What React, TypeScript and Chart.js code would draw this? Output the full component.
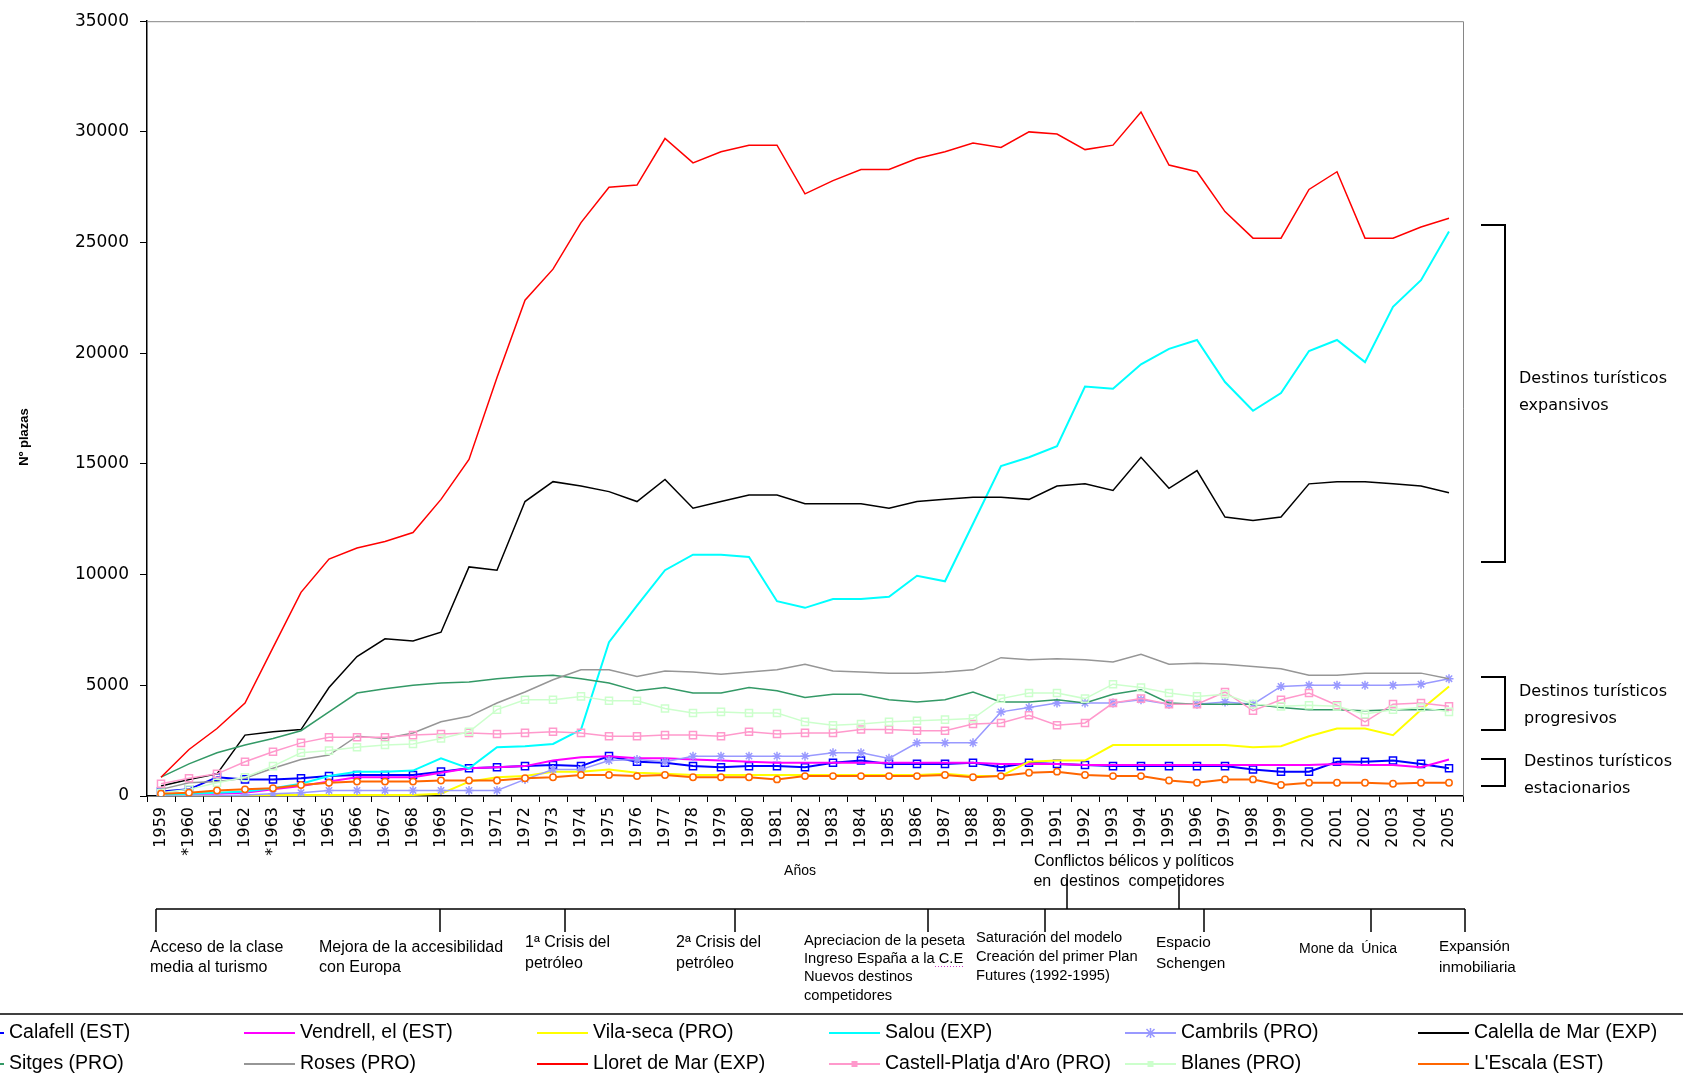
import React, { useEffect, useRef } from 'react';
import { Chart, registerables } from 'chart.js';

Chart.register(...registerables);

const yearLabels = ['1959', '*1960', '1961', '1962', '*1963', '1964', '1965', '1966', '1967', '1968', '1969', '1970', '1971', '1972', '1973', '1974', '1975', '1976', '1977', '1978', '1979', '1980', '1981', '1982', '1983', '1984', '1985', '1986', '1987', '1988', '1989', '1990', '1991', '1992', '1993', '1994', '1995', '1996', '1997', '1998', '1999', '2000', '2001', '2002', '2003', '2004', '2005'];

const yTicks = [0, 5000, 10000, 15000, 20000, 25000, 30000, 35000];

const calafell = [200, 300, 850, 750, 750, 800, 900, 950, 950, 950, 1100, 1250, 1300, 1350, 1400, 1350, 1800, 1550, 1500, 1350, 1300, 1350, 1350, 1300, 1500, 1600, 1450, 1450, 1450, 1500, 1300, 1500, 1450, 1400, 1350, 1350, 1350, 1350, 1350, 1200, 1100, 1100, 1550, 1550, 1600, 1450, 1250];
const vendrell = [50, 100, 100, 150, 300, 450, 650, 850, 850, 850, 1050, 1250, 1300, 1350, 1600, 1750, 1800, 1700, 1700, 1650, 1600, 1550, 1500, 1500, 1500, 1500, 1500, 1500, 1500, 1500, 1450, 1450, 1450, 1400, 1400, 1400, 1400, 1400, 1400, 1400, 1400, 1400, 1450, 1400, 1400, 1300, 1650];
const vilaseca = [0, 0, 0, 0, 50, 50, 50, 50, 50, 50, 100, 650, 850, 900, 1100, 1100, 1200, 1050, 1000, 950, 950, 950, 950, 950, 950, 950, 950, 950, 1000, 900, 900, 1550, 1600, 1600, 2300, 2300, 2300, 2300, 2300, 2200, 2250, 2700, 3050, 3050, 2750, 3900, 4950];
const salou = [50, 100, 150, 200, 350, 550, 900, 1100, 1100, 1150, 1700, 1250, 2200, 2250, 2350, 3000, 6950, 8600, 10200, 10900, 10900, 10800, 8800, 8500, 8900, 8900, 9000, 9950, 9700, 12300, 14900, 15300, 15800, 18500, 18400, 19500, 20200, 20600, 18700, 17400, 18200, 20100, 20600, 19600, 22100, 23300, 25500];
const cambrils = [0, 0, 0, 50, 100, 150, 250, 250, 250, 250, 250, 250, 250, 750, 1200, 1200, 1600, 1650, 1550, 1800, 1800, 1800, 1800, 1800, 1950, 1950, 1700, 2400, 2400, 2400, 3800, 4000, 4200, 4200, 4200, 4350, 4150, 4150, 4250, 4150, 4950, 5000, 5000, 5000, 5000, 5050, 5300];
const calella = [450, 750, 1000, 2750, 2900, 3000, 4900, 6300, 7100, 7000, 7400, 10350, 10200, 13300, 14200, 14000, 13750, 13300, 14300, 13000, 13300, 13600, 13600, 13200, 13200, 13200, 13000, 13300, 13400, 13500, 13500, 13400, 14000, 14100, 13800, 15300, 13900, 14700, 12600, 12450, 12600, 14100, 14200, 14200, 14100, 14000, 13700];
const sitges = [850, 1450, 1950, 2300, 2600, 2950, 3800, 4650, 4850, 5000, 5100, 5150, 5300, 5400, 5450, 5300, 5100, 4750, 4900, 4650, 4650, 4900, 4750, 4450, 4600, 4600, 4350, 4250, 4350, 4700, 4250, 4250, 4350, 4200, 4600, 4800, 4200, 4150, 4150, 4150, 4000, 3900, 3900, 3850, 3900, 3900, 3900];
const roses = [300, 600, 650, 800, 1250, 1650, 1850, 2700, 2600, 2850, 3350, 3600, 4200, 4700, 5250, 5700, 5700, 5400, 5650, 5600, 5500, 5600, 5700, 5950, 5650, 5600, 5550, 5550, 5600, 5700, 6250, 6150, 6200, 6150, 6050, 6400, 5950, 6000, 5950, 5850, 5750, 5450, 5450, 5550, 5550, 5550, 5300];
const lloret = [850, 2100, 3050, 4200, 6700, 9200, 10700, 11200, 11500, 11900, 13400, 15200, 18900, 22400, 23800, 25900, 27500, 27600, 29700, 28600, 29100, 29400, 29400, 27200, 27800, 28300, 28300, 28800, 29100, 29500, 29300, 30000, 29900, 29200, 29400, 30900, 28500, 28200, 26400, 25200, 25200, 27400, 28200, 25200, 25200, 25700, 26100];
const castell = [550, 800, 1000, 1550, 2000, 2400, 2650, 2650, 2650, 2750, 2800, 2850, 2800, 2850, 2900, 2850, 2700, 2700, 2750, 2750, 2700, 2900, 2800, 2850, 2850, 3000, 3000, 2950, 2950, 3250, 3300, 3650, 3200, 3300, 4200, 4400, 4150, 4150, 4700, 3850, 4350, 4650, 4100, 3350, 4150, 4200, 4050];
const blanes = [150, 300, 600, 850, 1350, 1950, 2050, 2200, 2300, 2350, 2600, 2900, 3900, 4350, 4350, 4500, 4300, 4300, 3950, 3750, 3800, 3750, 3750, 3350, 3200, 3250, 3350, 3400, 3450, 3500, 4400, 4650, 4650, 4400, 5050, 4900, 4650, 4500, 4600, 4150, 4050, 4100, 4050, 3700, 3900, 4000, 3800];
const lescala = [100, 150, 250, 300, 350, 500, 600, 650, 650, 650, 700, 700, 700, 800, 850, 950, 950, 900, 950, 850, 850, 850, 750, 900, 900, 900, 900, 900, 950, 850, 900, 1050, 1100, 950, 900, 900, 700, 600, 750, 750, 500, 600, 600, 600, 550, 600, 600];

const seriesNames = ['Calafell (EST)', 'Vendrell, el (EST)', 'Vila-seca (PRO)', 'Salou (EXP)', 'Cambrils (PRO)', 'Calella de Mar (EXP)', 'Sitges (PRO)', 'Roses (PRO)', 'Lloret de Mar (EXP)', "Castell-Platja d'Aro (PRO)", 'Blanes (PRO)', "L'Escala (EST)"];
const seriesValues = [calafell, vendrell, vilaseca, salou, cambrils, calella, sitges, roses, lloret, castell, blanes, lescala];

// styles (kept separate from the data)
const seriesStyles = [
  { color: '#0000FF', width: 2, point: 'rect', radius: 5, legendPoint: 'rect' },
  { color: '#FF00FF', width: 2, point: null, radius: 0, legendPoint: null },
  { color: '#FFFF00', width: 2, point: null, radius: 0, legendPoint: null },
  { color: '#00FFFF', width: 2, point: null, radius: 0, legendPoint: null },
  { color: '#9999FF', width: 1.5, point: 'star', radius: 4.5, legendPoint: 'star' },
  { color: '#000000', width: 1.5, point: null, radius: 0, legendPoint: null },
  { color: '#339966', width: 1.5, point: null, radius: 0, legendPoint: null },
  { color: '#969696', width: 1.5, point: null, radius: 0, legendPoint: null },
  { color: '#FF0000', width: 1.5, point: null, radius: 0, legendPoint: null },
  { color: '#FF99CC', width: 1.5, point: 'rect', radius: 5, legendPoint: 'smallrect' },
  { color: '#CCFFCC', width: 1.5, point: 'rect', radius: 5, legendPoint: 'smallrect' },
  { color: '#FF6600', width: 2, point: 'circle', radius: 3.2, legendPoint: null },
];

// annotation texts
const timelineTexts = [
  { x: 150, size: 16, lines: ['Acceso de la clase', 'media al turismo'], ys: [948, 968] },
  { x: 319, size: 16, lines: ['Mejora de la accesibilidad', 'con Europa'], ys: [948, 968] },
  { x: 525, size: 16, lines: ['1ª Crisis del', 'petróleo'], ys: [943, 964] },
  { x: 676, size: 16, lines: ['2ª Crisis del', 'petróleo'], ys: [943, 964] },
  { x: 804, size: 14.7, lines: ['Apreciacion de la peseta', 'Ingreso España a la C.E', 'Nuevos destinos', 'competidores'], ys: [941, 959, 977, 996] },
  { x: 976, size: 14.7, lines: ['Saturación del modelo', 'Creación del primer Plan', 'Futures (1992-1995)'], ys: [938, 957, 976] },
  { x: 1156, size: 15.4, lines: ['Espacio', 'Schengen'], ys: [943, 964] },
  { x: 1299, size: 14, lines: ['Mone da  Única'], ys: [949] },
  { x: 1439, size: 15.2, lines: ['Expansión', 'inmobiliaria'], ys: [947, 968] },
];
const timelineDownTicks = [156, 440, 565, 735, 928, 1045, 1204, 1371, 1465];
const timelineUpTicks = [1067, 1179];
const conflictLines = ['Conflictos bélicos y políticos', 'en  destinos  competidores'];

const groupBrackets = [
  { top: 225, bottom: 562, tx: 1519, lines: ['Destinos turísticos', 'expansivos'], ys: [379, 406] },
  { top: 677, bottom: 730, tx: 1519, lines: ['Destinos turísticos', ' progresivos'], ys: [692, 719] },
  { top: 759, bottom: 786, tx: 1524, lines: ['Destinos turísticos', 'estacionarios'], ys: [762, 789] },
];

const legendTextX = [9, 300, 593, 885, 1181, 1474];
const legendRowY = [1033, 1064];

const NARROW = '"Liberation Sans", Arial, sans-serif';
const WIDE = '"DejaVu Sans", Verdana, sans-serif';

const overlayPlugin = {
  id: 'overlay',
  afterDraw(chart: any) {
    const { ctx, chartArea: a } = chart;
    ctx.save();

    // top/right frame
    ctx.strokeStyle = '#868686';
    ctx.lineWidth = 1;
    ctx.beginPath();
    ctx.moveTo(a.left, a.top + 0.5);
    ctx.lineTo(a.right + 0.5, a.top + 0.5);
    ctx.lineTo(a.right + 0.5, a.bottom);
    ctx.stroke();

    ctx.fillStyle = '#000';
    // y axis title
    ctx.save();
    ctx.font = `bold 13px ${NARROW}`;
    ctx.translate(24, 437);
    ctx.rotate(-Math.PI / 2);
    ctx.textAlign = 'center';
    ctx.textBaseline = 'middle';
    ctx.fillText('Nº plazas', 0, 0);
    ctx.restore();

    // x axis title
    ctx.font = `14px ${NARROW}`;
    ctx.textAlign = 'center';
    ctx.textBaseline = 'middle';
    ctx.fillText('Años', 800, 871);

    // timeline
    ctx.strokeStyle = '#000';
    ctx.lineWidth = 1.5;
    ctx.beginPath();
    ctx.moveTo(156, 909);
    ctx.lineTo(1465, 909);
    timelineDownTicks.forEach((x) => { ctx.moveTo(x, 909); ctx.lineTo(x, 932); });
    ctx.moveTo(timelineUpTicks[0], 909); ctx.lineTo(timelineUpTicks[0], 879);
    ctx.moveTo(timelineUpTicks[1], 909); ctx.lineTo(timelineUpTicks[1], 885);
    ctx.stroke();

    ctx.font = `16px ${NARROW}`;
    ctx.textAlign = 'center';
    ctx.fillText(conflictLines[0], 1134, 862);
    ctx.fillText(conflictLines[1], 1129, 882);
    ctx.textAlign = 'left';
    timelineTexts.forEach((t) => {
      ctx.font = `${t.size}px ${NARROW}`;
      t.lines.forEach((line, i) => ctx.fillText(line, t.x, t.ys[i]));
    });
    // dotted spell-check underline under "C.E"
    ctx.strokeStyle = '#CC33CC';
    ctx.lineWidth = 1;
    ctx.setLineDash([1, 2]);
    ctx.beginPath();
    ctx.moveTo(935, 966.5);
    ctx.lineTo(964, 966.5);
    ctx.stroke();
    ctx.setLineDash([]);

    // group brackets
    ctx.strokeStyle = '#000';
    ctx.lineWidth = 2;
    groupBrackets.forEach((b) => {
      ctx.beginPath();
      ctx.moveTo(1481, b.top);
      ctx.lineTo(1505, b.top);
      ctx.lineTo(1505, b.bottom);
      ctx.lineTo(1481, b.bottom);
      ctx.stroke();
    });
    ctx.font = `16px ${WIDE}`;
    ctx.textAlign = 'left';
    groupBrackets.forEach((b) => {
      b.lines.forEach((line, i) => ctx.fillText(line, b.tx, b.ys[i]));
    });

    // legend separator
    ctx.strokeStyle = '#404040';
    ctx.lineWidth = 2;
    ctx.beginPath();
    ctx.moveTo(0, 1014);
    ctx.lineTo(1683, 1014);
    ctx.stroke();

    // legend
    ctx.font = `19.5px ${NARROW}`;
    seriesNames.forEach((name, i) => {
      const st = seriesStyles[i];
      const tx = legendTextX[i % 6];
      const y = legendRowY[Math.floor(i / 6)];
      const x0 = tx - 56;
      const x1 = tx - 5;
      ctx.strokeStyle = st.color;
      ctx.lineWidth = 2;
      ctx.beginPath();
      ctx.moveTo(x0, y);
      ctx.lineTo(x1, y);
      ctx.stroke();
      const mx = (x0 + x1) / 2;
      if (st.legendPoint === 'rect') {
        ctx.lineWidth = 1.5;
        ctx.strokeRect(mx - 3.5, y - 3.5, 7, 7);
      } else if (st.legendPoint === 'smallrect') {
        ctx.fillStyle = st.color;
        ctx.fillRect(mx - 3, y - 3, 6, 6);
      } else if (st.legendPoint === 'star') {
        ctx.lineWidth = 1.5;
        ctx.beginPath();
        ctx.moveTo(mx - 4, y - 4); ctx.lineTo(mx + 4, y + 4);
        ctx.moveTo(mx - 4, y + 4); ctx.lineTo(mx + 4, y - 4);
        ctx.moveTo(mx, y - 5); ctx.lineTo(mx, y + 5);
        ctx.stroke();
      }
      ctx.fillStyle = '#000';
      ctx.textAlign = 'left';
      ctx.textBaseline = 'middle';
      ctx.fillText(name, tx, y);
    });

    ctx.restore();
  },
};

export default function App() {
  const canvasRef = useRef<HTMLCanvasElement | null>(null);

  useEffect(() => {
    const canvas = canvasRef.current;
    if (!canvas) return;
    const N = seriesNames.length;
    const datasets = seriesNames.map((name, i) => {
      const st = seriesStyles[i];
      return {
        label: name,
        data: seriesValues[i],
        borderColor: st.color,
        backgroundColor: st.color,
        borderWidth: st.width,
        tension: 0,
        fill: false,
        pointStyle: st.point || 'circle',
        pointRadius: st.radius,
        pointBorderColor: st.color,
        pointBackgroundColor: st.point === 'circle' ? '#FFFFFF' : 'rgba(0,0,0,0)',
        pointBorderWidth: 1.5,
        order: N - i,
      };
    });

    const chart = new Chart(canvas, {
      type: 'line',
      data: { labels: yearLabels, datasets },
      options: {
        responsive: false,
        animation: false,
        devicePixelRatio: 1,
        events: [],
        layout: { padding: { left: 0, top: 18, right: 220, bottom: 221 } },
        plugins: {
          legend: { display: false },
          tooltip: { enabled: false },
        },
        scales: {
          x: {
            type: 'category',
            offset: true,
            grid: {
              display: true,
              drawOnChartArea: false,
              drawTicks: true,
              tickLength: 6,
              color: '#000',
              offset: true,
            },
            border: { display: true, color: '#000', width: 1.5 },
            ticks: {
              autoSkip: false,
              maxRotation: 90,
              minRotation: 90,
              padding: 5,
              color: '#000',
              font: { family: WIDE, size: 16 },
            },
            afterFit: (s: any) => { s.height = 60; },
          },
          y: {
            min: yTicks[0],
            max: yTicks[yTicks.length - 1],
            afterBuildTicks: (s: any) => { s.ticks = yTicks.map((v) => ({ value: v })); },
            grid: {
              display: true,
              drawOnChartArea: false,
              drawTicks: true,
              tickLength: 7,
              color: '#000',
            },
            border: { display: true, color: '#000', width: 1.5 },
            ticks: {
              padding: 11,
              color: '#000',
              font: { family: WIDE, size: 17 },
              callback: (v: any) => String(v),
            },
            afterFit: (s: any) => { s.width = 147; },
          },
        },
      },
      plugins: [overlayPlugin],
    } as any);

    return () => chart.destroy();
  }, []);

  return (
    <div style={{ position: 'absolute', left: 0, top: 0, width: 1683, height: 1077, overflow: 'hidden', background: '#fff' }}>
      <canvas ref={canvasRef} width={1683} height={1077} style={{ display: 'block', width: 1683, height: 1077 }} />
    </div>
  );
}
